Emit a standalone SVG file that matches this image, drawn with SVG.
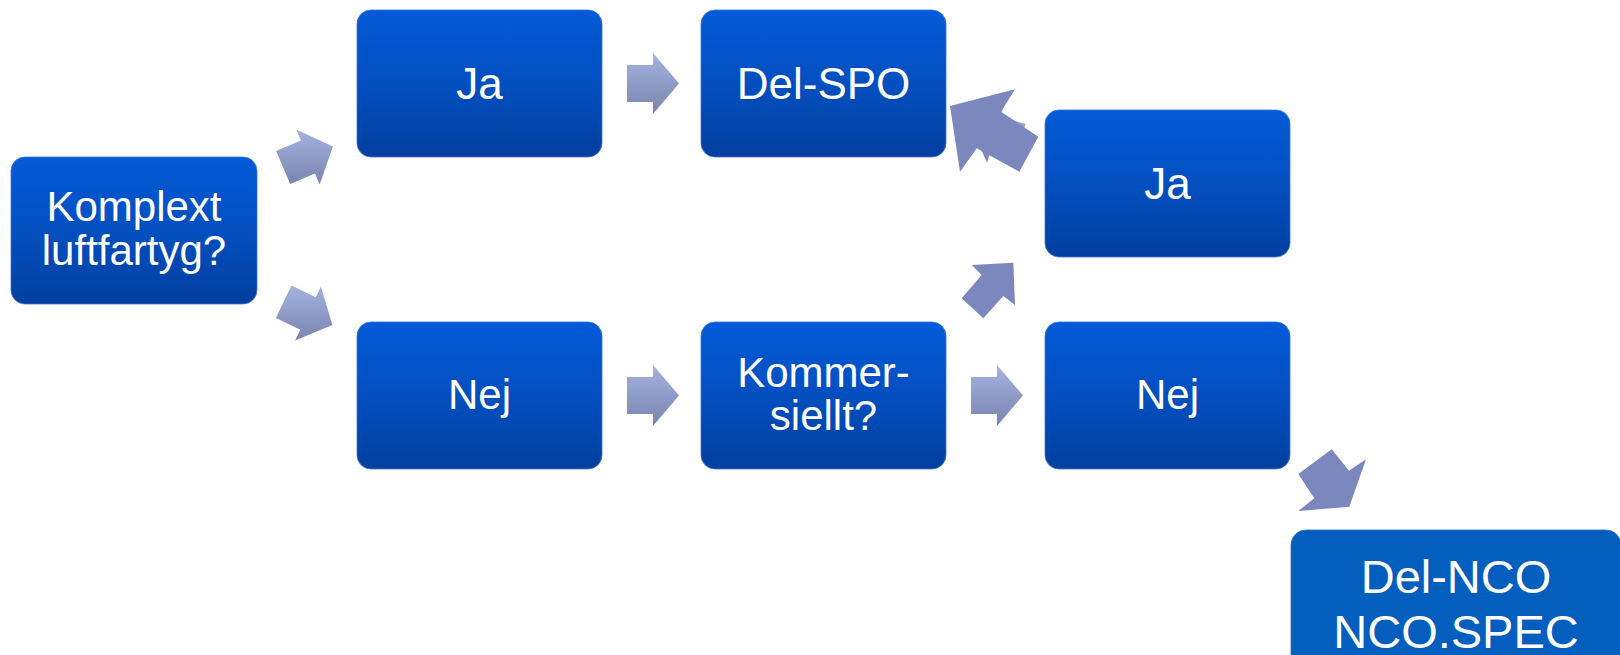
<svg xmlns="http://www.w3.org/2000/svg" width="1620" height="655" viewBox="0 0 1620 655">
<defs>
<linearGradient id="boxg" x1="0" y1="0" x2="0" y2="1">
<stop offset="0" stop-color="#035AD8"/>
<stop offset="0.5" stop-color="#034FC0"/>
<stop offset="1" stop-color="#023F9E"/>
</linearGradient>
<linearGradient id="arrg" x1="0" y1="0" x2="0" y2="1">
<stop offset="0" stop-color="#A5B2E0"/>
<stop offset="1" stop-color="#7A85AE"/>
</linearGradient>
<style>
.box{fill:url(#boxg);stroke:#3C74D6;stroke-width:0.8}
.flatbox{fill:#045EBE;stroke:#2F6FCB;stroke-width:0.8}
.t{font-family:"Liberation Sans",Arial,sans-serif;fill:#FFFFFF;text-anchor:middle}
.ga{fill:url(#arrg)}
.fa{fill:#7C87BE}
</style>
</defs>
<g id="connectors">
<polygon class="ga" points="627,65 653,65 653,53 679,83.5 653,114 653,102 627,102"/>
<polygon class="ga" points="627,377 653,377 653,365 679,395.5 653,426 653,414 627,414"/>
<polygon class="ga" points="971,377 997,377 997,365 1023,395.5 997,426 997,414 971,414"/>
<polygon class="ga" points="276.1,151.0 301.0,140.4 296.3,129.4 332.9,146.5 319.7,184.6 315.0,173.6 290.2,184.1"/>
<polygon class="ga" points="291.4,285.6 315.75,297.25 320.9,286.4 332.4,325.1 295.1,340.6 300.25,329.75 275.9,318.1"/>
<polygon class="ga" points="1015.4,158.6 990.45,151.3 987.1,162.8 970.55,126.7 1003.9,105.2 1000.55,116.7 1025.5,124.0"/>
<polygon class="fa" points="950,106 1015,89.3 1001,111.7 1038.3,136.7 1019.3,171.7 976.7,148.3 960,171.7"/>
<polygon class="fa" points="971.7,265 1013.3,262.7 1015,305 1003.3,296 983.3,318.3 961.7,298.3 981.7,275"/>
<polygon class="fa" points="1331.7,449.3 1349,470.7 1366,459.3 1349.3,506.7 1298.3,511 1314.3,498.3 1298.3,474"/>
</g>
<g id="node-komplext">
<rect class="box" x="11" y="157" width="246" height="147" rx="14"/>
<text class="t" x="134" y="221" font-size="42">Komplext</text>
<text class="t" x="134" y="265" font-size="42">luftfartyg?</text>
</g>
<g id="node-ja1">
<rect class="box" x="357" y="10" width="245" height="147" rx="14"/>
<text class="t" x="479.5" y="99" font-size="44">Ja</text>
</g>
<g id="node-delspo">
<rect class="box" x="701" y="10" width="245" height="147" rx="14"/>
<text class="t" x="823.5" y="99" font-size="44">Del-SPO</text>
</g>
<g id="node-ja2">
<rect class="box" x="1045" y="110" width="245" height="147" rx="14"/>
<text class="t" x="1167.5" y="199" font-size="44">Ja</text>
</g>
<g id="node-nej1">
<rect class="box" x="357" y="322" width="245" height="147" rx="14"/>
<text class="t" x="479.5" y="409" font-size="42">Nej</text>
</g>
<g id="node-kommersiellt">
<rect class="box" x="701" y="322" width="245" height="147" rx="14"/>
<text class="t" x="823.5" y="387" font-size="42">Kommer-</text>
<text class="t" x="823.5" y="430" font-size="42">siellt?</text>
</g>
<g id="node-nej2">
<rect class="box" x="1045" y="322" width="245" height="147" rx="14"/>
<text class="t" x="1167.5" y="409" font-size="42">Nej</text>
</g>
<g id="node-delnco">
<rect class="flatbox" x="1291" y="530" width="330" height="147" rx="15"/>
<text class="t" x="1456" y="593" font-size="47">Del-NCO</text>
<text class="t" x="1456" y="648" font-size="47">NCO.SPEC</text>
</g>
</svg>
